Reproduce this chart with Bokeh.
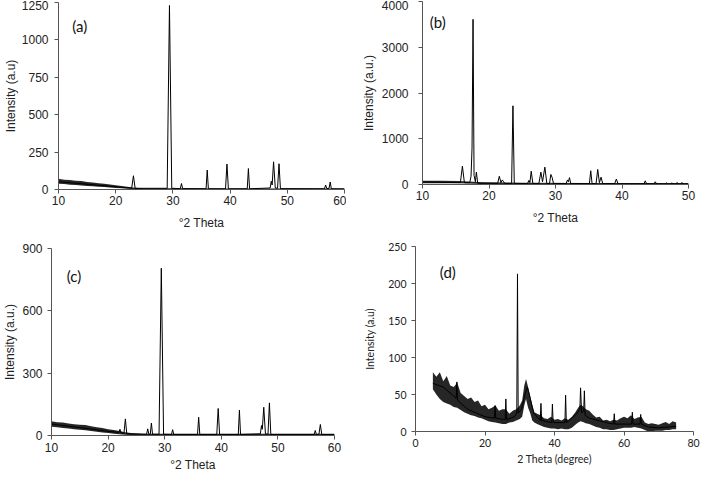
from bokeh.plotting import figure
from bokeh.models import Range1d, FixedTicker, Label
from bokeh.layouts import row, column
from bokeh.embed import file_html
from bokeh.resources import INLINE

# ---------------- data ----------------
# (a)
a_theta = [10, 20, 22.8, 23.1, 23.4, 29.0, 29.4, 29.8, 31.3, 31.5,
           31.7, 35.8, 36.0, 36.2, 39.2, 39.45, 39.7, 43.0, 43.2, 43.4,
           47.0, 47.2, 47.35, 47.6, 47.9, 48.3, 48.55, 48.8, 56.5, 56.7,
           56.9, 57.3, 57.5, 57.7, 60]
a_int = [52, 18, 10, 92, 8, 8, 1230, 8, 6, 40,
         6, 5, 130, 5, 5, 170, 5, 5, 140, 5,
         10, 55, 30, 185, 10, 8, 172, 6, 5, 30,
         6, 8, 50, 5, 4]
a_band_theta = [10, 11, 12, 13, 14, 15, 16, 17, 18, 19,
                20, 21, 22, 23, 24, 26, 30, 40, 50, 60]
a_band_low = [38, 36, 32, 30, 27, 24, 21, 19, 16, 13,
              10, 8, 5, 3, 2, 2, 2, 2, 2, 2]
a_band_high = [72, 66, 64, 58, 56, 50, 46, 42, 38, 33,
               28, 24, 18, 14, 10, 9, 8, 7, 7, 7]

# (b)
b_theta = [10, 15.7, 16.0, 16.3, 17.1, 17.3, 17.45, 17.6, 17.75, 17.95,
           18.1, 18.3, 21.3, 21.55, 21.8, 22.0, 22.2, 22.4, 23.4, 23.6,
           23.8, 25.8, 26.0, 26.15, 26.35, 26.6, 27.5, 27.8, 28.05, 28.4,
           28.7, 29.1, 29.3, 29.5, 29.7, 31.6, 31.8, 31.95, 32.1, 32.3,
           35.1, 35.3, 35.5, 36.1, 36.35, 36.6, 36.85, 37.1, 38.9, 39.15,
           39.4, 43.3, 43.5, 43.7, 44.8, 45.0, 45.2, 46.5, 46.7, 46.9,
           47.3, 47.5, 47.7, 48.1, 48.3, 48.5, 48.8, 49.0, 49.2, 50]
b_int = [55, 40, 400, 40, 40, 180, 800, 3610, 200, 60,
         270, 30, 25, 180, 40, 100, 60, 20, 20, 1720,
         20, 20, 90, 40, 290, 20, 20, 270, 60, 380,
         20, 20, 220, 150, 20, 20, 100, 60, 150, 20,
         20, 300, 20, 20, 330, 40, 160, 20, 20, 120,
         15, 15, 80, 15, 15, 60, 15, 10, 35, 10,
         10, 35, 10, 10, 45, 10, 10, 45, 10, 10]
b_band_theta = [10, 13, 15.5, 19, 25, 35, 50]
b_band_low = [30, 30, 28, 10, 5, 5, 5]
b_band_high = [80, 80, 75, 50, 40, 35, 35]

# (c)
c_theta = [10, 15, 20, 21.9, 22.1, 22.3, 22.8, 23.05, 23.3, 26.8,
           27.0, 27.2, 27.45, 27.65, 27.85, 29.0, 29.4, 29.8, 31.2, 31.4,
           31.6, 35.8, 36.0, 36.2, 39.2, 39.45, 39.7, 43.0, 43.2, 43.4,
           46.9, 47.1, 47.25, 47.5, 47.8, 48.25, 48.5, 48.75, 56.4, 56.6,
           56.8, 57.25, 57.5, 57.75, 60]
c_int = [55, 38, 20, 15, 30, 12, 10, 80, 8, 6,
         32, 6, 6, 60, 6, 6, 805, 6, 5, 28,
         5, 5, 88, 5, 5, 130, 5, 5, 122, 5,
         8, 48, 30, 136, 8, 6, 157, 5, 5, 24,
         5, 6, 53, 5, 4]
c_band_theta = [10, 11, 12, 13, 14, 15, 16, 17, 18, 19,
                20, 21, 22, 23, 24, 26, 30, 60]
c_band_low = [42, 40, 36, 34, 30, 28, 25, 22, 18, 15,
              12, 9, 6, 4, 3, 2, 2, 2]
c_band_high = [68, 64, 62, 58, 54, 52, 50, 44, 40, 36,
               30, 26, 22, 16, 12, 9, 8, 8]

# (d)
d_theta = [5, 8, 11.7, 11.9, 12.1, 15, 20, 22.7, 22.9, 23.1,
           25.8, 26.0, 26.2, 28.5, 29.15, 29.35, 29.55, 30.5, 31.5, 32.2,
           33, 34, 35.9, 36.1, 36.3, 39.2, 39.4, 39.6, 43.0, 43.2,
           43.4, 46, 47.3, 47.5, 47.8, 48.4, 48.6, 48.8, 50, 55,
           57.0, 57.2, 57.4, 60, 62.2, 62.4, 62.6, 64.6, 64.8, 65,
           67, 70, 75]
d_int = [65, 60, 45, 67, 42, 30, 20, 18, 35, 18,
         16, 44, 16, 20, 25, 213, 25, 30, 50, 60,
         45, 25, 15, 38, 15, 12, 37, 12, 12, 49,
         12, 22, 30, 59, 25, 28, 55, 22, 18, 12,
         10, 24, 10, 10, 10, 26, 10, 10, 23, 10,
         6, 5, 7]
d_band_theta = [5, 6, 7, 8, 9, 10, 11, 12, 13, 14,
                15, 16, 17, 18, 19, 20, 21, 22, 23, 24,
                25, 26, 27, 28, 29, 30, 30.7, 31.3, 31.8, 32.4,
                33, 33.6, 34.2, 35, 36, 37, 38, 39, 40, 41,
                42, 43, 44, 45, 46, 46.8, 47.5, 48.2, 49, 50,
                51, 52, 53, 54, 55, 56, 57, 58, 59, 60,
                61, 62, 63, 64, 65, 66, 67, 68, 69, 70,
                71, 72, 73, 74, 75]
d_band_low = [57, 50, 44, 40, 38, 36, 33, 32, 29, 26,
              24, 22, 21, 19, 18, 16, 14, 13, 12, 11,
              10, 10, 12, 13, 15, 17, 20, 35, 44, 32,
              25, 15, 12, 10, 8, 6, 5, 4, 4, 3,
              4, 3, 3, 5, 9, 12, 14, 13, 11, 10,
              8, 6, 5, 3, 3, 2, 2, 3, 4, 5,
              5, 5, 6, 5, 4, 2, 0, 0, 1, 1,
              1, 2, 2, 3, 3]
d_band_high = [80, 74, 80, 68, 75, 62, 60, 66, 52, 48,
               44, 46, 40, 42, 34, 36, 30, 32, 35, 28,
               30, 30, 24, 28, 30, 35, 42, 62, 71, 60,
               48, 36, 26, 24, 22, 18, 17, 20, 16, 17,
               15, 18, 16, 20, 26, 32, 36, 34, 30, 28,
               23, 19, 20, 15, 16, 14, 16, 15, 18, 20,
               18, 22, 17, 19, 20, 12, 10, 11, 10, 9,
               11, 13, 10, 14, 12]

a_xticks = [10, 20, 30, 40, 50, 60]
a_yticks = [0, 250, 500, 750, 1000, 1250]
b_xticks = [10, 20, 30, 40, 50]
b_yticks = [0, 1000, 2000, 3000, 4000]
c_xticks = [10, 20, 30, 40, 50, 60]
c_yticks = [0, 300, 600, 900]
d_xticks = [0, 20, 40, 60, 80]
d_yticks = [0, 50, 100, 150, 200, 250]


def panel(w, h, borders, xr, yr, xt, yt, theta, inten, bt, bl, bh,
          xlabel, ylabel, tag, tag_pos, font, fsize, stand):
    left, right, top, bottom = borders
    p = figure(width=w, height=h, output_backend="svg", toolbar_location=None,
               x_range=Range1d(*xr), y_range=Range1d(*yr),
               min_border_left=left, min_border_right=right,
               min_border_top=top, min_border_bottom=bottom)
    p.frame_align = False
    p.outline_line_color = None
    p.grid.visible = False
    p.background_fill_color = "white"
    p.border_fill_color = "white"
    p.varea(x=bt, y1=bl, y2=bh, fill_color="black", fill_alpha=0.85)
    p.line(theta, inten, line_color="black", line_width=1)
    xs, xls, ys, yls = stand
    for ax in (p.xaxis[0], p.yaxis[0]):
        ax.axis_line_color = "#555555"
        ax.major_tick_line_color = "#555555"
        ax.major_tick_out = 4
        ax.major_tick_in = 0
        ax.minor_tick_line_color = None
        ax.major_label_text_font = font
        ax.major_label_text_font_size = fsize
        ax.major_label_text_color = "#222222"
        ax.axis_label_text_font = font
        ax.axis_label_text_font_size = fsize
        ax.axis_label_text_font_style = "normal"
        ax.axis_label_text_color = "#222222"
    p.xaxis[0].ticker = FixedTicker(ticks=xt)
    p.yaxis[0].ticker = FixedTicker(ticks=yt)
    p.xaxis[0].axis_label = xlabel
    p.yaxis[0].axis_label = ylabel
    p.xaxis[0].major_label_standoff = xs
    p.xaxis[0].axis_label_standoff = xls
    p.yaxis[0].major_label_standoff = ys
    p.yaxis[0].axis_label_standoff = yls
    p.add_layout(Label(x=tag_pos[0], y=tag_pos[1], text=tag, text_font="Lato",
                       text_font_size="15px", text_color="#111111",
                       text_align="left", text_baseline="middle"))
    return p


pa = panel(346, 232, (51, 2, 2, 42), (10, 60), (0, 1250), a_xticks, a_yticks,
           a_theta, a_int, a_band_theta, a_band_low, a_band_high,
           "°2 Theta", "Intensity (a.u)", "(a)", (12.4, 1095),
           "Liberation Sans", "12px", (2, 8, 6, 1))
pb = panel(355, 232, (76, 13, 1, 48), (10, 50), (0, 4000), b_xticks, b_yticks,
           b_theta, b_int, b_band_theta, b_band_low, b_band_high,
           "°2 Theta", "Intensity (a.u.)", "(b)", (11.1, 3556),
           "Liberation Sans", "12px", (2, 8, 10, 3))
pc = panel(346, 243, (40, 12, 16, 40), (10, 60), (0, 900), c_xticks, c_yticks,
           c_theta, c_int, c_band_theta, c_band_low, c_band_high,
           "°2 Theta", "Intensity (a.u.)", "(c)", (12.7, 769),
           "Liberation Sans", "12px", (3, 3, 5, 2))
pd_ = panel(355, 243, (69, 8, 14, 44), (0, 80), (0, 250), d_xticks, d_yticks,
            d_theta, d_int, d_band_theta, d_band_low, d_band_high,
            "2 Theta (degree)", "Intensity (a.u)", "(d)", (7.0, 216),
            "Lato", "10.5px", (3, 3, 5, 9))

layout = row(column(pa, pc), column(pb, pd_))
open("out.html", "w").write(file_html(layout, INLINE))
